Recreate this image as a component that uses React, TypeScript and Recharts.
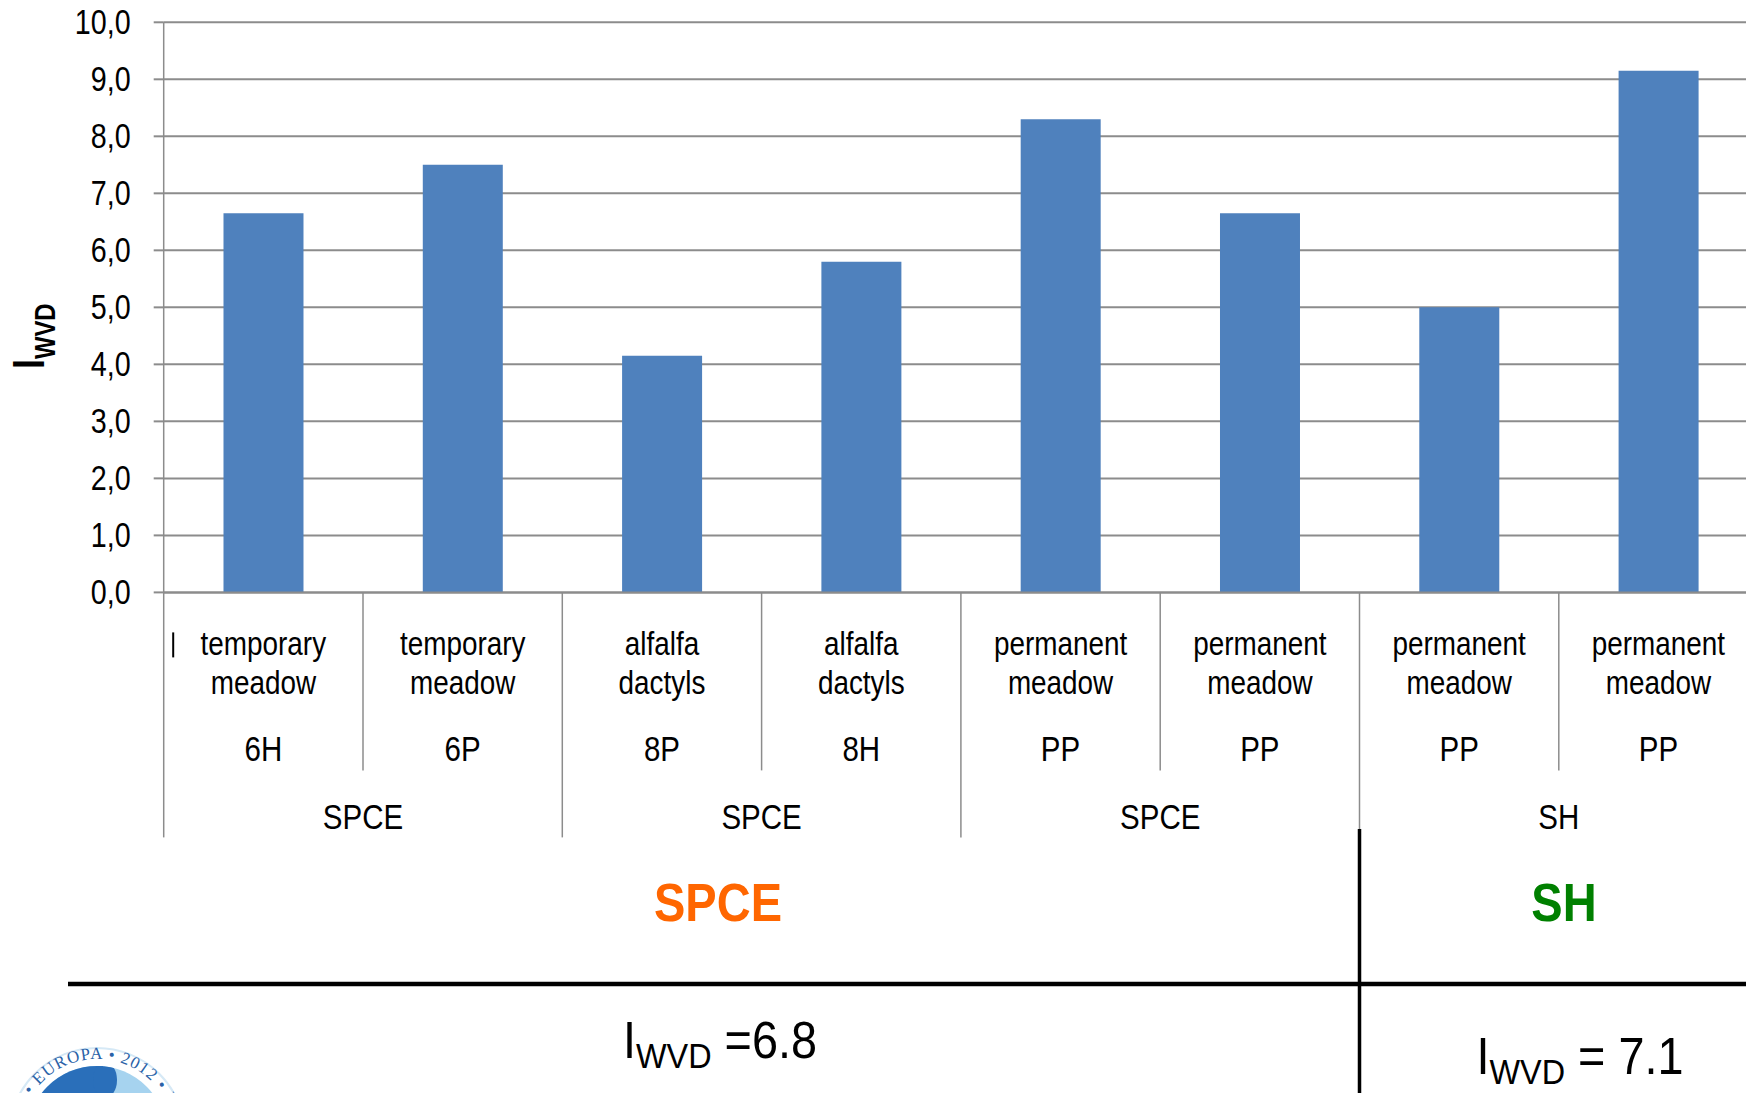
import React from 'react';
import { BarChart, Bar, XAxis, YAxis, CartesianGrid } from 'recharts';

// crop description, two lines per column
const cropLine1 = ['temporary', 'temporary', 'alfalfa', 'alfalfa', 'permanent', 'permanent', 'permanent', 'permanent'];
const cropLine2 = ['meadow', 'meadow', 'dactyls', 'dactyls', 'meadow', 'meadow', 'meadow', 'meadow'];
const codes = ['6H', '6P', '8P', '8H', 'PP', 'PP', 'PP', 'PP'];
// one farm group per pair of columns
const farmGroups = ['SPCE', 'SPCE', 'SPCE', 'SH'];
const iwvdValues = [6.65, 7.5, 4.15, 5.8, 8.3, 6.65, 5.0, 9.15];
const yTicks = [0, 1, 2, 3, 4, 5, 6, 7, 8, 9, 10];

const systemNames = ['SPCE', 'SH'];
const systemColors = ['#ff6600', '#008000'];
const systemMeans = [' =6.8', ' = 7.1'];

// no narrow face installed, so regular Liberation Sans is squeezed horizontally
const FONT = "'Liberation Sans', Arial, sans-serif";
const SQUEEZE = 0.82;
const GRID = '#8c8c8c';
const BAR = '#4f81bd';

const PAGE_W = 1746;
const PAGE_H = 1093;
const CHART_W = 1800;
const PLOT_LEFT = 163.7;
const PLOT_TOP = 22.3;
const PLOT_BOTTOM = 592.4;
const CAT_W = 199.3;
const PLOT_RIGHT = PLOT_LEFT + CAT_W * codes.length;

const data = codes.map((c, i) => ({ key: String(i), code: c, value: iwvdValues[i] }));

const NText = ({ x, y, sx = SQUEEZE, children, ...rest }: any) => (
  <text
    transform={`translate(${x} ${y}) scale(${sx} 1)`}
    fontFamily={FONT}
    fill="#000"
    textAnchor="middle"
    dominantBaseline="central"
    {...rest}
  >
    {children}
  </text>
);

const CategoryTick = (props: any) => {
  const { x, y, index } = props;
  const half = CAT_W / 2;
  const pairStart = index % 2 === 0;
  return (
    <g>
      <line x1={x - half} y1={y} x2={x - half} y2={y + (pairStart ? 245 : 178)} stroke={GRID} strokeWidth={1.5} />
      {index === 0 && <line x1={x - half + 9.5} y1={y + 40} x2={x - half + 9.5} y2={y + 65} stroke="#000" strokeWidth={2} />}
      <NText x={x} y={y + 51} fontSize={34}>{cropLine1[index]}</NText>
      <NText x={x} y={y + 90} fontSize={34}>{cropLine2[index]}</NText>
      <NText x={x} y={y + 156} fontSize={36}>{codes[index]}</NText>
      {pairStart && (
        <NText x={x + half} y={y + 224} fontSize={36}>{farmGroups[index / 2]}</NText>
      )}
    </g>
  );
};

const ValueTick = (props: any) => {
  const { x, y, payload } = props;
  return (
    <NText x={x} y={y} fontSize={35} textAnchor="end">
      {Number(payload.value).toFixed(1).replace('.', ',')}
    </NText>
  );
};

const Logo = () => {
  const cx = 97;
  const cy = 1136;
  const r = 88;
  const tr = 77;
  const a = Math.PI / 6;
  const sx = cx - tr * Math.cos(a);
  const sy = cy + tr * Math.sin(a);
  const ex = cx + tr * Math.cos(a);
  return (
    <g>
      <defs>
        <path id="logoArc" d={`M ${sx} ${sy} A ${tr} ${tr} 0 1 1 ${ex} ${sy}`} />
        <clipPath id="innerClip">
          <circle cx={cx} cy={cy} r={70} />
        </clipPath>
      </defs>
      <circle cx={cx} cy={cy} r={r} fill="#ffffff" stroke="#d6e9f6" strokeWidth={2} />
      <circle cx={cx} cy={cy} r={70} fill="#a6d3ef" />
      <g clipPath="url(#innerClip)">
        <rect x={cx - 72} y={cy - 72} width={78} height={144} fill="#2a6fba" />
        <ellipse cx={cx + 8} cy={cy - 56} rx={12} ry={18} fill="#2a6fba" />
      </g>
      <text fontFamily="'Liberation Serif', serif" fontSize={17} fill="#2a62a8" letterSpacing={1}>
        <textPath href="#logoArc" startOffset="30">
          EAAP • EUROPA • 2012 • BRATISLAVA
        </textPath>
      </text>
    </g>
  );
};

const App: React.FC = () => {
  return (
    <div
      style={{
        position: 'absolute',
        left: 0,
        top: 0,
        width: PAGE_W,
        height: PAGE_H,
        overflow: 'hidden',
        background: '#ffffff',
      }}
    >
      <BarChart
        width={CHART_W}
        height={PAGE_H}
        data={data}
        barCategoryGap="30%"
        margin={{ top: PLOT_TOP, right: CHART_W - PLOT_RIGHT, bottom: 0, left: 0 }}
      >
        <CartesianGrid horizontal vertical={false} stroke={GRID} strokeWidth={2} />
        <XAxis
          dataKey="key"
          interval={0}
          height={PAGE_H - PLOT_BOTTOM}
          axisLine={{ stroke: GRID, strokeWidth: 2 }}
          tickLine={false}
          tickSize={0}
          tickMargin={0}
          tick={<CategoryTick />}
        />
        <YAxis
          width={PLOT_LEFT}
          domain={[0, 10]}
          ticks={yTicks}
          interval={0}
          tickSize={10}
          tickMargin={23}
          axisLine={{ stroke: GRID, strokeWidth: 1.5 }}
          tickLine={{ stroke: GRID, strokeWidth: 2 }}
          tick={<ValueTick />}
        />
        <Bar dataKey="value" fill={BAR} isAnimationActive={false} />
      </BarChart>

      <svg
        width={PAGE_W}
        height={PAGE_H}
        style={{ position: 'absolute', left: 0, top: 0, pointerEvents: 'none' }}
      >
        {/* y axis title */}
        <text
          transform={`translate(44 369) rotate(-90) scale(${SQUEEZE} 1)`}
          fontFamily={FONT}
          fontWeight="bold"
          fill="#000"
        >
          <tspan fontSize={44}>I</tspan>
          <tspan fontSize={29} dy={11}>WVD</tspan>
        </text>

        {/* system summary table */}
        <line x1={68} y1={984} x2={PAGE_W} y2={984} stroke="#000" strokeWidth={4.5} />
        <line x1={1359.5} y1={829} x2={1359.5} y2={PAGE_H} stroke="#000" strokeWidth={3.5} />

        {systemNames.map((name, i) => (
          <NText
            key={name}
            x={i === 0 ? 718 : 1564}
            y={902}
            sx={0.87}
            fontWeight="bold"
            fontSize={54}
            fill={systemColors[i]}
          >
            {name}
          </NText>
        ))}

        {systemMeans.map((m, i) => (
          <NText
            key={i}
            x={i === 0 ? 720 : 1580}
            y={i === 0 ? 1058 : 1074}
            sx={0.9}
            dominantBaseline="auto"
            fontSize={52}
          >
            <tspan>I</tspan>
            <tspan fontSize={36} dy={10}>WVD</tspan>
            <tspan dy={-10}>{m}</tspan>
          </NText>
        ))}

        <Logo />
      </svg>
    </div>
  );
};

export default App;
